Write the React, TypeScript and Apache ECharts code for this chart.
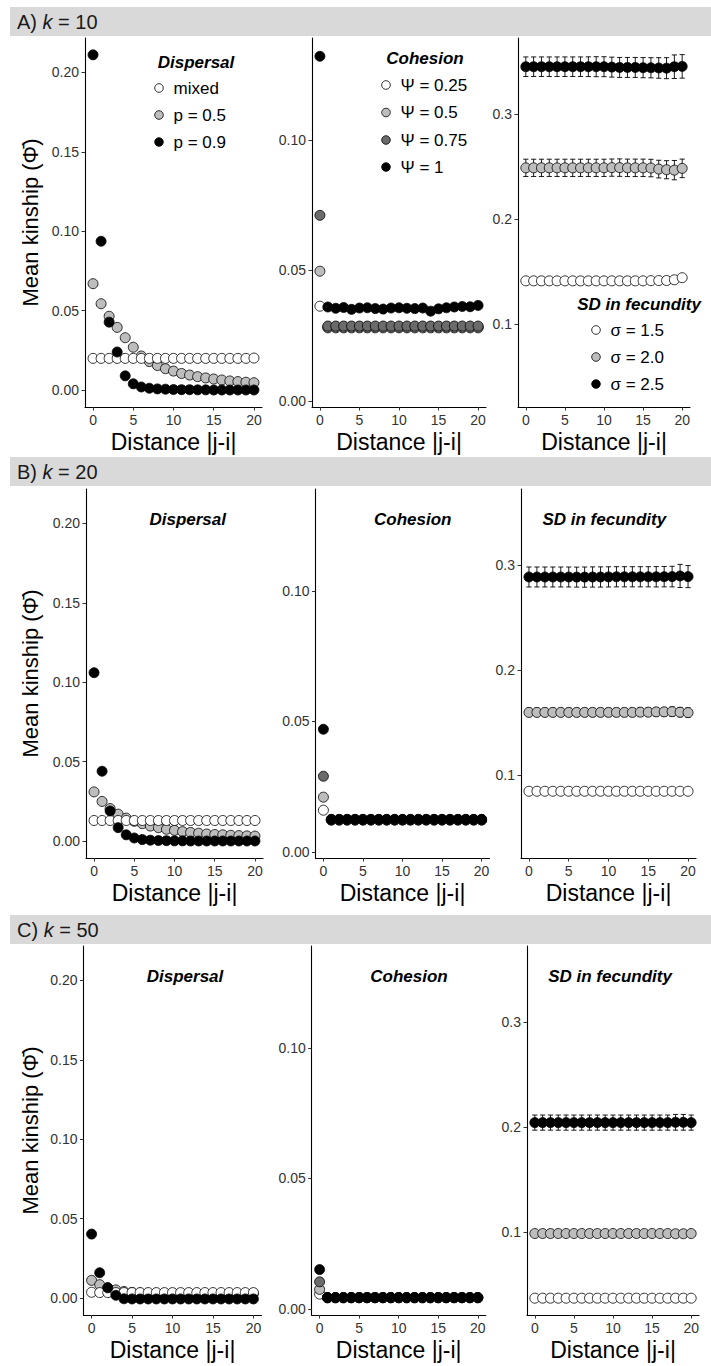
import React, { useEffect, useRef } from "react";
import * as echarts from "echarts";

const FONT = "'Liberation Sans', Arial, sans-serif";

const distance = [0, 1, 2, 3, 4, 5, 6, 7, 8, 9, 10, 11, 12, 13, 14, 15, 16, 17, 18, 19, 20];

// ---------- Column 1: Dispersal ----------
const dispMixedA = [0.02, 0.02, 0.02, 0.02, 0.02, 0.02, 0.02, 0.02, 0.02, 0.02, 0.02, 0.02, 0.02, 0.02, 0.02, 0.02, 0.02, 0.02, 0.02, 0.02, 0.0202];
const dispP05A = [0.067, 0.0544, 0.0465, 0.0395, 0.033, 0.027, 0.0215, 0.018, 0.0155, 0.0135, 0.012, 0.0105, 0.0095, 0.0085, 0.0077, 0.007, 0.0064, 0.0058, 0.0054, 0.005, 0.0047];
const dispP09A = [0.211, 0.0937, 0.0428, 0.024, 0.009, 0.004, 0.002, 0.0012, 0.0008, 0.0006, 0.0004, 0.0003, 0.0003, 0.0002, 0.0002, 0.0001, 0.0001, 0.0001, 0.0001, 0.0001, 0.0001];

const dispMixedB = [0.013, 0.013, 0.013, 0.013, 0.013, 0.013, 0.013, 0.013, 0.013, 0.013, 0.013, 0.013, 0.013, 0.013, 0.013, 0.013, 0.013, 0.013, 0.013, 0.013, 0.013];
const dispP05B = [0.031, 0.025, 0.0205, 0.017, 0.0145, 0.0125, 0.011, 0.0095, 0.0085, 0.0075, 0.0068, 0.006, 0.0055, 0.005, 0.0045, 0.0042, 0.004, 0.0037, 0.0035, 0.0033, 0.0032];
const dispP09B = [0.106, 0.044, 0.019, 0.0085, 0.004, 0.002, 0.001, 0.0006, 0.0004, 0.0003, 0.0002, 0.0002, 0.0001, 0.0001, 0.0001, 0.0001, 0.0001, 0.0001, 0.0001, 0.0001, 0.0001];

const dispMixedC = [0.0037, 0.0035, 0.0035, 0.0035, 0.0035, 0.0035, 0.0035, 0.0035, 0.0035, 0.0035, 0.0035, 0.0035, 0.0035, 0.0035, 0.0035, 0.0035, 0.0035, 0.0035, 0.0035, 0.0035, 0.0035];
const dispP05C = [0.0112, 0.0085, 0.0066, 0.0052, 0.0042, 0.0036, 0.0033, 0.0031, 0.003, 0.003, 0.0029, 0.0029, 0.0029, 0.0029, 0.0029, 0.0029, 0.0029, 0.0029, 0.0029, 0.0029, 0.0029];
const dispP09C = [0.0403, 0.016, 0.0065, 0.0018, -0.0004, -0.0005, -0.0005, -0.0005, -0.0005, -0.0005, -0.0005, -0.0005, -0.0005, -0.0005, -0.0005, -0.0005, -0.0005, -0.0005, -0.0005, -0.0005, -0.0005];

// ---------- Column 2: Cohesion ----------
const coh025A = [0.0363, 0.028, 0.028, 0.028, 0.028, 0.028, 0.028, 0.028, 0.028, 0.028, 0.028, 0.028, 0.028, 0.028, 0.028, 0.028, 0.028, 0.028, 0.028, 0.028, 0.028];
const coh050A = [0.0497, 0.0283, 0.0283, 0.0283, 0.0283, 0.0283, 0.0283, 0.0283, 0.0283, 0.0283, 0.0283, 0.0283, 0.0283, 0.0283, 0.0283, 0.0283, 0.0283, 0.0283, 0.0283, 0.0283, 0.0283];
const coh075A = [0.0711, 0.0287, 0.0287, 0.0287, 0.0287, 0.0287, 0.0287, 0.0287, 0.0287, 0.0287, 0.0287, 0.0287, 0.0287, 0.0287, 0.0287, 0.0287, 0.0287, 0.0287, 0.0287, 0.0287, 0.0287];
const coh100A = [0.132, 0.036, 0.0355, 0.0358, 0.0351, 0.0356, 0.0357, 0.0354, 0.0352, 0.0356, 0.0357, 0.0355, 0.0354, 0.0356, 0.0344, 0.0353, 0.0357, 0.036, 0.0362, 0.0361, 0.0366];

const coh025B = [0.016, 0.0122, 0.0122, 0.0122, 0.0122, 0.0122, 0.0122, 0.0122, 0.0122, 0.0122, 0.0122, 0.0122, 0.0122, 0.0122, 0.0122, 0.0122, 0.0122, 0.0122, 0.0122, 0.0122, 0.0122];
const coh050B = [0.021, 0.0123, 0.0123, 0.0123, 0.0123, 0.0123, 0.0123, 0.0123, 0.0123, 0.0123, 0.0123, 0.0123, 0.0123, 0.0123, 0.0123, 0.0123, 0.0123, 0.0123, 0.0123, 0.0123, 0.0123];
const coh075B = [0.029, 0.0124, 0.0124, 0.0124, 0.0124, 0.0124, 0.0124, 0.0124, 0.0124, 0.0124, 0.0124, 0.0124, 0.0124, 0.0124, 0.0124, 0.0124, 0.0124, 0.0124, 0.0124, 0.0124, 0.0124];
const coh100B = [0.047, 0.0125, 0.0125, 0.0125, 0.0125, 0.0125, 0.0125, 0.0125, 0.0125, 0.0125, 0.0125, 0.0125, 0.0125, 0.0125, 0.0125, 0.0125, 0.0125, 0.0125, 0.0125, 0.0125, 0.0125];

const coh025C = [0.0057, 0.0043, 0.0043, 0.0043, 0.0043, 0.0043, 0.0043, 0.0043, 0.0043, 0.0043, 0.0043, 0.0043, 0.0043, 0.0043, 0.0043, 0.0043, 0.0043, 0.0043, 0.0043, 0.0043, 0.0043];
const coh050C = [0.0075, 0.0043, 0.0043, 0.0043, 0.0043, 0.0043, 0.0043, 0.0043, 0.0043, 0.0043, 0.0043, 0.0043, 0.0043, 0.0043, 0.0043, 0.0043, 0.0043, 0.0043, 0.0043, 0.0043, 0.0043];
const coh075C = [0.0104, 0.0044, 0.0044, 0.0044, 0.0044, 0.0044, 0.0044, 0.0044, 0.0044, 0.0044, 0.0044, 0.0044, 0.0044, 0.0044, 0.0044, 0.0044, 0.0044, 0.0044, 0.0044, 0.0044, 0.0044];
const coh100C = [0.0151, 0.0044, 0.0044, 0.0044, 0.0044, 0.0044, 0.0044, 0.0044, 0.0044, 0.0044, 0.0044, 0.0044, 0.0044, 0.0044, 0.0044, 0.0044, 0.0044, 0.0044, 0.0044, 0.0044, 0.0044];

// ---------- Column 3: SD in fecundity (mean, error) ----------
const sd15A = [0.1415, 0.1415, 0.1415, 0.1415, 0.1415, 0.1415, 0.1415, 0.1415, 0.1415, 0.1415, 0.1415, 0.1415, 0.1415, 0.1415, 0.1415, 0.1415, 0.1417, 0.1418, 0.1418, 0.1425, 0.1445];
const sd15AErr = [0.0008, 0.0008, 0.0008, 0.0008, 0.0008, 0.0008, 0.0008, 0.0008, 0.0008, 0.0008, 0.0008, 0.0008, 0.0008, 0.0008, 0.0008, 0.0008, 0.0008, 0.0008, 0.0008, 0.0009, 0.001];
const sd20A = [0.249, 0.249, 0.249, 0.249, 0.249, 0.249, 0.249, 0.249, 0.249, 0.249, 0.249, 0.2492, 0.2492, 0.249, 0.249, 0.249, 0.2488, 0.2478, 0.2472, 0.2468, 0.2485];
const sd20AErr = [0.0082, 0.0082, 0.0082, 0.0082, 0.0082, 0.0082, 0.0082, 0.0082, 0.0082, 0.0082, 0.0082, 0.0082, 0.0083, 0.0083, 0.0083, 0.0083, 0.0083, 0.0084, 0.0086, 0.0092, 0.0088];
const sd25A = [0.3452, 0.3452, 0.3452, 0.3452, 0.3452, 0.3452, 0.3452, 0.3452, 0.3452, 0.3452, 0.3452, 0.3448, 0.3445, 0.3445, 0.3445, 0.3443, 0.3442, 0.344, 0.3438, 0.3452, 0.3455];
const sd25AErr = [0.0093, 0.0093, 0.0093, 0.0093, 0.0093, 0.0093, 0.0093, 0.0093, 0.0094, 0.0095, 0.0095, 0.0095, 0.0095, 0.0095, 0.0095, 0.0096, 0.0096, 0.0098, 0.01, 0.0112, 0.0112];

const sd15B = [0.085, 0.085, 0.085, 0.085, 0.085, 0.085, 0.085, 0.085, 0.085, 0.085, 0.085, 0.085, 0.085, 0.085, 0.085, 0.085, 0.085, 0.085, 0.085, 0.085, 0.085];
const sd15BErr = [0.0005, 0.0005, 0.0005, 0.0005, 0.0005, 0.0005, 0.0005, 0.0005, 0.0005, 0.0005, 0.0005, 0.0005, 0.0005, 0.0005, 0.0005, 0.0005, 0.0005, 0.0005, 0.0005, 0.0005, 0.0005];
const sd20B = [0.16, 0.16, 0.16, 0.16, 0.16, 0.16, 0.16, 0.16, 0.16, 0.16, 0.16, 0.16, 0.16, 0.16, 0.1602, 0.1602, 0.1605, 0.1605, 0.1607, 0.1602, 0.1598];
const sd20BErr = [0.004, 0.004, 0.004, 0.004, 0.004, 0.004, 0.004, 0.004, 0.004, 0.004, 0.004, 0.004, 0.004, 0.004, 0.004, 0.004, 0.0042, 0.0042, 0.0045, 0.0045, 0.0045];
const sd25B = [0.2888, 0.2888, 0.2888, 0.2888, 0.2888, 0.2888, 0.2887, 0.2887, 0.2888, 0.2888, 0.2889, 0.289, 0.289, 0.289, 0.289, 0.289, 0.289, 0.2891, 0.2892, 0.2898, 0.2892];
const sd25BErr = [0.0095, 0.0095, 0.0095, 0.0095, 0.0095, 0.0095, 0.0095, 0.0096, 0.0096, 0.0096, 0.0096, 0.0096, 0.0096, 0.0096, 0.0096, 0.0096, 0.0097, 0.0097, 0.0098, 0.011, 0.0105];

const sd15C = [0.0375, 0.0375, 0.0375, 0.0375, 0.0375, 0.0375, 0.0375, 0.0375, 0.0375, 0.0375, 0.0375, 0.0375, 0.0375, 0.0375, 0.0375, 0.0375, 0.0375, 0.0375, 0.0375, 0.0375, 0.0375];
const sd15CErr = [0.0003, 0.0003, 0.0003, 0.0003, 0.0003, 0.0003, 0.0003, 0.0003, 0.0003, 0.0003, 0.0003, 0.0003, 0.0003, 0.0003, 0.0003, 0.0003, 0.0003, 0.0003, 0.0003, 0.0003, 0.0003];
const sd20C = [0.099, 0.099, 0.099, 0.099, 0.099, 0.099, 0.099, 0.099, 0.099, 0.099, 0.099, 0.099, 0.099, 0.099, 0.099, 0.099, 0.099, 0.099, 0.0988, 0.0988, 0.099];
const sd20CErr = [0.0012, 0.0012, 0.0012, 0.0012, 0.0012, 0.0012, 0.0012, 0.0012, 0.0012, 0.0012, 0.0012, 0.0012, 0.0012, 0.0012, 0.0012, 0.0012, 0.0012, 0.0012, 0.0012, 0.0012, 0.0012];
const sd25C = [0.2045, 0.2045, 0.2045, 0.2045, 0.2045, 0.2045, 0.2045, 0.2045, 0.2045, 0.2045, 0.2045, 0.2045, 0.2045, 0.2045, 0.2045, 0.2045, 0.2045, 0.2045, 0.2048, 0.2048, 0.2045];
const sd25CErr = [0.0072, 0.0072, 0.0072, 0.0072, 0.0072, 0.0072, 0.0072, 0.0072, 0.0072, 0.0072, 0.0072, 0.0072, 0.0072, 0.0072, 0.0072, 0.0072, 0.0072, 0.0072, 0.0075, 0.0075, 0.0072];

// ---------- Labels ----------
const xTicks = [0, 5, 10, 15, 20];
const yTicksDisp = [0, 0.05, 0.1, 0.15, 0.2];
const yTicksCoh = [0, 0.05, 0.1];
const yTicksSd = [0.1, 0.2, 0.3];
const rowLabels = ["A", "B", "C"];
const rowK = ["10", "20", "50"];
const panelTitles = ["Dispersal", "Cohesion", "SD in fecundity"];
const dispNames = ["mixed", "p = 0.5", "p = 0.9"];
const cohNames = ["\u03A8 = 0.25", "\u03A8 = 0.5", "\u03A8 = 0.75", "\u03A8 = 1"];
const sdNames = ["\u03C3 = 1.5", "\u03C3 = 2.0", "\u03C3 = 2.5"];
const xTitle = "Distance |j-i|";
const yTitle = "Mean kinship (\u03A6\u0304)";

const WHITE = "#ffffff";
const LIGHT = "#bdbdbd";
const DARK = "#6b6b6b";
const BLACK = "#000000";

// layout (pixels)
const rowTops = [38, 489, 946];
const plotH = 369;
const headerY = [7, 457, 915];
const colBoxes = [
  [{ left: 85, width: 177 }, { left: 312, width: 174 }, { left: 518, width: 172 }],
  [{ left: 86, width: 177 }, { left: 315.5, width: 174 }, { left: 521, width: 175 }],
  [{ left: 83.5, width: 178 }, { left: 311.7, width: 174 }, { left: 527, width: 172 }],
];
const yCfg = [
  { min: -0.0106, max: 0.2216, ticks: yTicksDisp, dec: 2 },
  { min: -0.0023, max: 0.139, ticks: yTicksCoh, dec: 2 },
  { min: 0.0215, max: 0.3725, ticks: yTicksSd, dec: 1 },
];

function buildOption() {
  const grids: any[] = [];
  const xAxes: any[] = [];
  const yAxes: any[] = [];
  const series: any[] = [];
  const graphics: any[] = [];

  for (let r = 0; r < 3; r++) {
    for (let c = 0; c < 3; c++) {
      const box = colBoxes[r][c];
      grids.push({ left: box.left, top: rowTops[r], width: box.width, height: plotH, containLabel: false });
      xAxes.push({
        gridIndex: r * 3 + c,
        type: "value",
        min: -1,
        max: 21,
        axisLine: { show: true, onZero: false, lineStyle: { color: "#000", width: 1.1 } },
        axisTick: { show: true, customValues: xTicks, length: 3.5, lineStyle: { color: "#333", width: 1 } },
        axisLabel: { customValues: xTicks, fontSize: 14, color: "#333", margin: 6, fontFamily: FONT },
        splitLine: { show: false },
      });
      const yc = yCfg[c];
      yAxes.push({
        gridIndex: r * 3 + c,
        type: "value",
        min: yc.min,
        max: yc.max,
        axisLine: { show: true, onZero: false, lineStyle: { color: "#000", width: 1.1 } },
        axisTick: { show: true, customValues: yc.ticks, length: 3.5, lineStyle: { color: "#333", width: 1 } },
        axisLabel: {
          customValues: yc.ticks,
          fontSize: 14,
          color: "#333",
          margin: 6,
          fontFamily: FONT,
          formatter: (v: number) => v.toFixed(yc.dec),
        },
        splitLine: { show: false },
      });
    }
  }

  const pts = (vals: number[]) => distance.map((d, i) => [d, vals[i]]);
  const scatter = (name: string, vals: number[], fill: string, gi: number, z = 3) => ({
    name,
    type: "scatter",
    xAxisIndex: gi,
    yAxisIndex: gi,
    data: pts(vals),
    symbol: "circle",
    symbolSize: 10,
    z,
    itemStyle: { color: fill, borderColor: "#000", borderWidth: 0.8, opacity: 1 },
    emphasis: { disabled: true },
  });
  const errBars = (name: string, vals: number[], errs: number[], gi: number) => ({
    name: name + " error",
    type: "custom",
    xAxisIndex: gi,
    yAxisIndex: gi,
    z: 2,
    data: distance.map((d, i) => [d, vals[i], errs[i]]),
    encode: { x: 0, y: 1 },
    renderItem: (params: any, api: any) => {
      const x = api.value(0);
      const y = api.value(1);
      const e = api.value(2);
      const t = api.coord([x, y + e]);
      const b = api.coord([x, y - e]);
      const w = 2.6;
      const st = { stroke: "#000", lineWidth: 0.9 };
      return {
        type: "group",
        children: [
          { type: "line", shape: { x1: t[0], y1: t[1], x2: b[0], y2: b[1] }, style: st },
          { type: "line", shape: { x1: t[0] - w, y1: t[1], x2: t[0] + w, y2: t[1] }, style: st },
          { type: "line", shape: { x1: b[0] - w, y1: b[1], x2: b[0] + w, y2: b[1] }, style: st },
        ],
      };
    },
  });

  const disp = [
    [dispMixedA, dispP05A, dispP09A],
    [dispMixedB, dispP05B, dispP09B],
    [dispMixedC, dispP05C, dispP09C],
  ];
  const coh = [
    [coh025A, coh050A, coh075A, coh100A],
    [coh025B, coh050B, coh075B, coh100B],
    [coh025C, coh050C, coh075C, coh100C],
  ];
  const sd = [
    [[sd15A, sd15AErr], [sd20A, sd20AErr], [sd25A, sd25AErr]],
    [[sd15B, sd15BErr], [sd20B, sd20BErr], [sd25B, sd25BErr]],
    [[sd15C, sd15CErr], [sd20C, sd20CErr], [sd25C, sd25CErr]],
  ];
  const dispFill = [WHITE, LIGHT, BLACK];
  const cohFill = [WHITE, LIGHT, DARK, BLACK];
  const sdFill = [WHITE, LIGHT, BLACK];

  for (let r = 0; r < 3; r++) {
    series.push(scatter(dispNames[1], disp[r][1], dispFill[1], r * 3, 3));
    series.push(scatter(dispNames[0], disp[r][0], dispFill[0], r * 3, 4));
    series.push(scatter(dispNames[2], disp[r][2], dispFill[2], r * 3, 5));
    for (let k = 0; k < 4; k++) series.push(scatter(cohNames[k], coh[r][k], cohFill[k], r * 3 + 1, 3 + k));
    for (let k = 0; k < 3; k++) {
      series.push(errBars(sdNames[k], sd[r][k][0], sd[r][k][1], r * 3 + 2));
      series.push(scatter(sdNames[k], sd[r][k][0], sdFill[k], r * 3 + 2, 3 + k));
    }
  }

  for (let r = 0; r < 3; r++) {
    graphics.push({
      type: "rect",
      shape: { x: 10, y: headerY[r], width: 701, height: 29 },
      style: { fill: "#d9d9d9" },
      z: 0,
    });
    graphics.push({
      type: "text",
      x: 17,
      y: headerY[r] + 15,
      style: {
        text: `{n|${rowLabels[r]}) }{i|k}{n| = ${rowK[r]}}`,
        rich: {
          n: { fontSize: 20, fontFamily: FONT, fill: "#1a1a1a" },
          i: { fontSize: 20, fontFamily: FONT, fontStyle: "italic", fill: "#1a1a1a" },
        },
        verticalAlign: "middle",
        align: "left",
      },
    });
    const mid = rowTops[r] + plotH / 2;
    graphics.push({
      type: "text",
      x: 30,
      y: mid,
      rotation: Math.PI / 2,
      style: { text: yTitle, fontSize: 22, fontFamily: FONT, fill: "#000", align: "center", verticalAlign: "middle" },
    });
    for (let c = 0; c < 3; c++) {
      const box = colBoxes[r][c];
      graphics.push({
        type: "text",
        x: box.left + box.width / 2,
        y: rowTops[r] + plotH + 35,
        style: { text: xTitle, fontSize: 23, fontFamily: FONT, fill: "#000", align: "center", verticalAlign: "middle" },
      });
    }
  }

  const titleX = [
    [187.7, 412.7, 604.3],
    [185, 409, 610],
  ];
  for (let r = 1; r < 3; r++) {
    for (let c = 0; c < 3; c++) {
      graphics.push({
        type: "text",
        x: titleX[r - 1][c],
        y: rowTops[r] + 30,
        style: {
          text: panelTitles[c],
          fontSize: 17,
          fontWeight: "bold",
          fontStyle: "italic",
          fontFamily: FONT,
          fill: "#000",
          align: "center",
          verticalAlign: "middle",
        },
      });
    }
  }

  const legend = (title: string, tx: number, ty: number, names: string[], fills: string[], cx: number, ys: number[]) => {
    graphics.push({
      type: "text",
      x: tx,
      y: ty,
      style: {
        text: title,
        fontSize: 17,
        fontWeight: "bold",
        fontStyle: "italic",
        fontFamily: FONT,
        fill: "#000",
        align: "center",
        verticalAlign: "middle",
      },
    });
    names.forEach((n, i) => {
      graphics.push({
        type: "circle",
        shape: { cx, cy: ys[i], r: 4.3 },
        style: { fill: fills[i], stroke: "#000", lineWidth: 0.8 },
      });
      graphics.push({
        type: "text",
        x: cx + 14.5,
        y: ys[i],
        style: { text: n, fontSize: 17, fontFamily: FONT, fill: "#000", align: "left", verticalAlign: "middle" },
      });
    });
  };
  legend(panelTitles[0], 196, 62, dispNames, dispFill, 159, [88, 115, 142]);
  legend(panelTitles[1], 425, 58, cohNames, cohFill, 386, [85, 112.5, 140, 167]);
  legend(panelTitles[2], 639, 304, sdNames, sdFill, 596, [330, 357, 384]);

  return {
    animation: false,
    backgroundColor: "#ffffff",
    textStyle: { fontFamily: FONT },
    grid: grids,
    xAxis: xAxes,
    yAxis: yAxes,
    series,
    graphic: { elements: graphics },
  };
}

export default function App() {
  const ref = useRef<HTMLDivElement>(null);
  useEffect(() => {
    document.body.style.margin = "0";
    const chart = echarts.init(ref.current as HTMLDivElement, null, { renderer: "svg" });
    chart.setOption(buildOption() as any);
    return () => chart.dispose();
  }, []);
  return <div ref={ref} style={{ width: 711, height: 1366 }} />;
}
